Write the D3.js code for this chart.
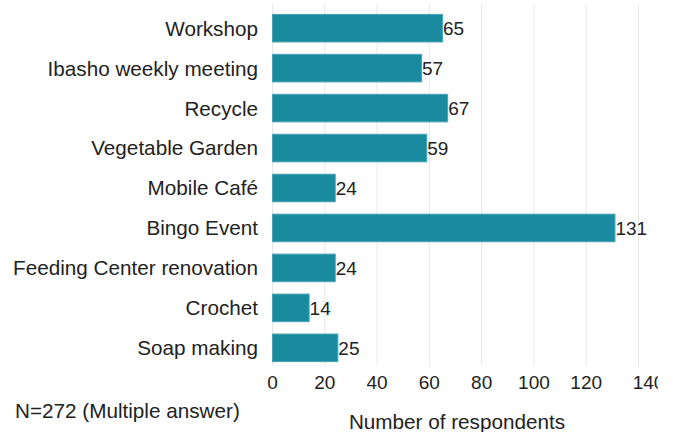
<!DOCTYPE html>
<html>
<head>
  <script src="https://d3js.org/d3.v7.min.js"></script>
  <style>
    body { margin: 0; background: #fff; }
    text { font-family: "Liberation Sans", Arial, sans-serif; fill: #222; }
    .grid line { stroke: #e8e8e8; stroke-width: 1px; }
    .bar { fill: #1a8a9e; stroke: #4aa3b3; stroke-width: 1px; }
  </style>
</head>
<body>
  <svg width="673" height="432"></svg>
  <script>
    var categories = ["Workshop", "Ibasho weekly meeting", "Recycle", "Vegetable Garden",
      "Mobile Café", "Bingo Event", "Feeding Center renovation", "Crochet", "Soap making"];
    var values = [65, 57, 67, 59, 24, 131, 24, 14, 25];
    var xTicks = [0, 20, 40, 60, 80, 100, 120, 140];

    var data = categories.map(function(c, i) { return { name: c, value: values[i] }; });

    var svg = d3.select("svg"),
      margin = { top: 8, left: 272 },
      width = 366,
      height = 360;

    var x = d3.scaleLinear().domain([0, 140]).range([0, width]);
    var y = d3.scaleBand().domain(categories).range([0, height]).paddingInner(0.31).paddingOuter(0.16);

    // the last tick label is cut off at the right edge in the original
    svg.append("defs").append("clipPath")
      .attr("id", "clip")
      .append("rect")
      .attr("x", 0).attr("y", 0)
      .attr("width", 658).attr("height", 432);

    var g = svg.append("g")
      .attr("transform", "translate(" + margin.left + "," + margin.top + ")");

    // grid lines
    g.append("g")
      .attr("class", "grid")
      .selectAll("line")
      .data(xTicks)
      .enter().append("line")
      .attr("x1", function(d) { return x(d) + 0.5; })
      .attr("x2", function(d) { return x(d) + 0.5; })
      .attr("y1", -4)
      .attr("y2", height - 2);

    g.selectAll(".bar")
      .data(data)
      .enter().append("rect")
      .attr("class", "bar")
      .attr("x", 0.5)
      .attr("y", function(d) { return y(d.name); })
      .attr("width", function(d) { return x(d.value); })
      .attr("height", y.bandwidth());

    g.selectAll(".val")
      .data(data)
      .enter().append("text")
      .attr("class", "val")
      .attr("x", function(d) { return x(d.value) + 1; })
      .attr("y", function(d) { return y(d.name) + y.bandwidth() / 2; })
      .attr("dy", "0.36em")
      .style("font-size", "19px")
      .text(function(d) { return d.value; });

    g.selectAll(".cat")
      .data(data)
      .enter().append("text")
      .attr("class", "cat")
      .attr("x", -14)
      .attr("y", function(d) { return y(d.name) + y.bandwidth() / 2; })
      .attr("dy", "0.36em")
      .attr("text-anchor", "end")
      .style("font-size", "20.7px")
      .text(function(d) { return d.name; });

    // x axis tick labels
    var xAxis = d3.axisBottom(x).tickValues(xTicks).tickSize(0).tickPadding(0);
    var ax = svg.append("g")
      .attr("clip-path", "url(#clip)")
      .append("g")
      .attr("transform", "translate(" + margin.left + "," + (margin.top + height + 2) + ")")
      .call(xAxis);
    ax.select(".domain").remove();
    ax.selectAll("text")
      .style("font-size", "19px")
      .style("fill", "#222")
      .attr("font-family", null)
      .attr("dy", "0.71em")
      .attr("y", 6)
      .attr("x", function(d) { return d === 140 ? 10 : 0; });

    svg.append("text")
      .attr("x", margin.left + 185)
      .attr("y", 429)
      .attr("text-anchor", "middle")
      .style("font-size", "20.7px")
      .text("Number of respondents");

    svg.append("text")
      .attr("x", 15)
      .attr("y", 418)
      .style("font-size", "20.7px")
      .text("N=272 (Multiple answer)");
  </script>
</body>
</html>
